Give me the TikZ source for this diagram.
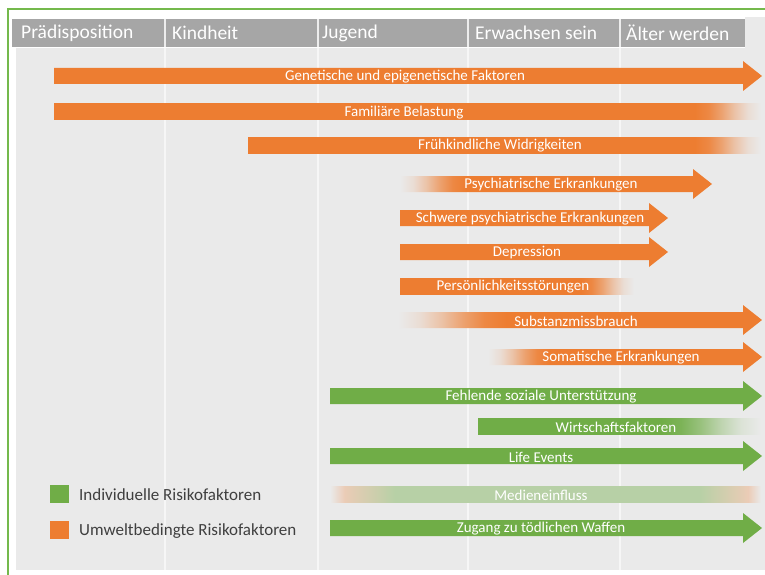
\documentclass[tikz,border=0pt]{standalone}
\usepackage{fontspec}
\setmainfont{Carlito}
\definecolor{orng}{HTML}{ED7D31}
\definecolor{grn}{HTML}{70AD47}
\definecolor{frame}{HTML}{74B94C}
\definecolor{bg}{HTML}{EAEAEA}
\definecolor{hdr}{HTML}{A6A6A6}
\definecolor{divl}{HTML}{F6F6F6}
\definecolor{legtxt}{HTML}{3F3F3F}
\colorlet{orngA}{orng!90!bg}\colorlet{orngB}{orng!66!bg}\colorlet{orngC}{orng!36!bg}\colorlet{orngD}{orng!12!bg}
\colorlet{grnA}{grn!90!bg}\colorlet{grnB}{grn!66!bg}\colorlet{grnC}{grn!36!bg}\colorlet{grnD}{grn!12!bg}
\colorlet{medG}{grn!42!bg}\colorlet{medO}{orng!28!bg}
\newcommand\declfadeout[3]{% name, colour, fraction where fading starts
  \pgfmathsetmacro\sa{25+50*#3}%
  \pgfmathsetmacro\sb{\sa+(75-\sa)*0.2}%
  \pgfmathsetmacro\sc{\sa+(75-\sa)*0.4}%
  \pgfmathsetmacro\sd{\sa+(75-\sa)*0.6}%
  \pgfmathsetmacro\se{\sa+(75-\sa)*0.8}%
  \edef\tmp{\noexpand\pgfdeclarehorizontalshading{#1}{100bp}{color(0bp)=(#2); color(\sa bp)=(#2); color(\sb bp)=(#2A); color(\sc bp)=(#2B); color(\sd bp)=(#2C); color(\se bp)=(#2D); color(75bp)=(bg); color(100bp)=(bg)}}\tmp}
\newcommand\declfadein[3]{% name, colour, fraction where fading ends
  \pgfmathsetmacro\sa{25+50*#3}%
  \pgfmathsetmacro\sb{25+(\sa-25)*0.2}%
  \pgfmathsetmacro\sc{25+(\sa-25)*0.4}%
  \pgfmathsetmacro\sd{25+(\sa-25)*0.6}%
  \pgfmathsetmacro\se{25+(\sa-25)*0.8}%
  \edef\tmp{\noexpand\pgfdeclarehorizontalshading{#1}{100bp}{color(0bp)=(bg); color(25bp)=(bg); color(\sb bp)=(#2D); color(\sc bp)=(#2C); color(\sd bp)=(#2B); color(\se bp)=(#2A); color(\sa bp)=(#2); color(100bp)=(#2)}}\tmp}
\declfadeout{shFam}{orng}{0.9066}
\declfadeout{shFrueh}{orng}{0.8713}
\declfadein{shPsych}{orng}{0.2115}
\declfadeout{shPers}{orng}{0.7735}
\declfadein{shSubst}{orng}{0.2967}
\declfadein{shSoma}{orng}{0.2226}
\declfadeout{shWirt}{grn}{0.6466}
\pgfdeclarehorizontalshading{shMedien}{100bp}{color(0bp)=(bg); color(25bp)=(bg); color(26.7bp)=(medO); color(32.6bp)=(medG); color(67.8bp)=(medG); color(73.5bp)=(medO); color(75bp)=(bg); color(100bp)=(bg)}
\newcommand\headbar[4]{% y, xstart, tip, fill options
  \path[#4] ({#2},{#1-8}) -- ({#3-19},{#1-8}) -- ({#3-19},{#1-15}) -- ({#3},{#1}) -- ({#3-19},{#1+15}) -- ({#3-19},{#1+8}) -- ({#2},{#1+8}) -- cycle;}
\newcommand\plainbar[4]{% y, xstart, xend, fill options
  \path[#4] ({#2},{#1-8}) rectangle ({#3},{#1+8});}
\begin{document}
\begin{tikzpicture}[x=1pt,y=-1pt,
  hdrtxt/.style={text=white,font=\fontsize{19.5}{21}\selectfont,anchor=west,inner sep=0pt},
  bartxt/.style={text=white,font=\fontsize{15}{17}\selectfont,inner sep=0pt},
  legtext/.style={text=legtxt,font=\fontsize{17}{19}\selectfont,anchor=west,inner sep=0pt},
  divider/.style={draw=divl,line width=1.6pt},
  ofill/.style={fill=orng}, gfill/.style={fill=grn},
  fadefill/.style={shade, shading=#1}]
\useasboundingbox (0,0) rectangle (765,575);
\fill[white] (0,0) rectangle (765,575);
% frame
\draw[frame,line width=2.6pt] (8,585) -- (8,9) -- (780,9);
% body and header
\fill[bg] (16,48) rectangle (765,570);
\fill[bg] (745,17) rectangle (765,48);
\fill[hdr] (12,19) rectangle (745,47);
\foreach \xx in {165,318,468,620}{
  \draw[divider] (\xx,48) -- (\xx,570);
  \draw[draw=white!80!hdr,line width=1.4pt] (\xx,19) -- (\xx,47);
}
\node[hdrtxt] (h1) at (21,33) {Prädisposition};
\node[hdrtxt] (h2) at (172,33) {Kindheit};
\node[hdrtxt] (h3) at (322,33) {Jugend};
\node[hdrtxt] (h4) at (475,33) {Erwachsen sein};
\node[hdrtxt] (h5) at (626,33) {Älter werden};
% orange bars
\headbar{76}{54}{762}{ofill}
\node[bartxt] (b1) at (405,77) {Genetische und epigenetische Faktoren};
\plainbar{112}{54}{761}{fadefill=shFam}
\node[bartxt] (b2) at (404,113) {Familiäre Belastung};
\plainbar{145}{248}{761}{fadefill=shFrueh}
\node[bartxt] (b3) at (500,146) {Frühkindliche Widrigkeiten};
\headbar{184}{400}{712}{fadefill=shPsych}
\node[bartxt] (b4) at (551,185) {Psychiatrische Erkrankungen};
\headbar{218}{400}{668}{ofill}
\node[bartxt] (b5) at (530,219) {Schwere psychiatrische Erkrankungen};
\headbar{252}{400}{668}{ofill}
\node[bartxt] (b6) at (527,253) {Depression};
\plainbar{286}{400}{634}{fadefill=shPers}
\node[bartxt] (b7) at (513,287) {Persönlichkeitsstörungen};
\headbar{320}{398}{762}{fadefill=shSubst}
\node[bartxt] (b8) at (576,321) {Substanzmissbrauch};
\headbar{357}{488}{762}{fadefill=shSoma}
\node[bartxt] (b9) at (621,358) {Somatische Erkrankungen};
% green bars
\headbar{396}{330}{762}{gfill}
\node[bartxt] (g1) at (541,397) {Fehlende soziale Unterstützung};
\plainbar{426}{478}{761}{fadefill=shWirt}
\node[bartxt] (g2) at (616,427) {Wirtschaftsfaktoren};
\headbar{456}{330}{762}{gfill}
\node[bartxt] (g3) at (541,457) {Life Events};
\plainbar{494}{330}{761}{fadefill=shMedien}
\node[bartxt] (g4) at (541,495) {Medieneinfluss};
\headbar{528}{330}{762}{gfill}
\node[bartxt] (g5) at (541,529) {Zugang zu tödlichen Waffen};
% legend
\fill[grn] (50,485) rectangle (69,503);
\node[legtext] (l1) at (79,495) {Individuelle Risikofaktoren};
\fill[orng] (50,521) rectangle (69,539);
\node[legtext] (l2) at (79,531) {Umweltbedingte Risikofaktoren};
\end{tikzpicture}
\end{document}
